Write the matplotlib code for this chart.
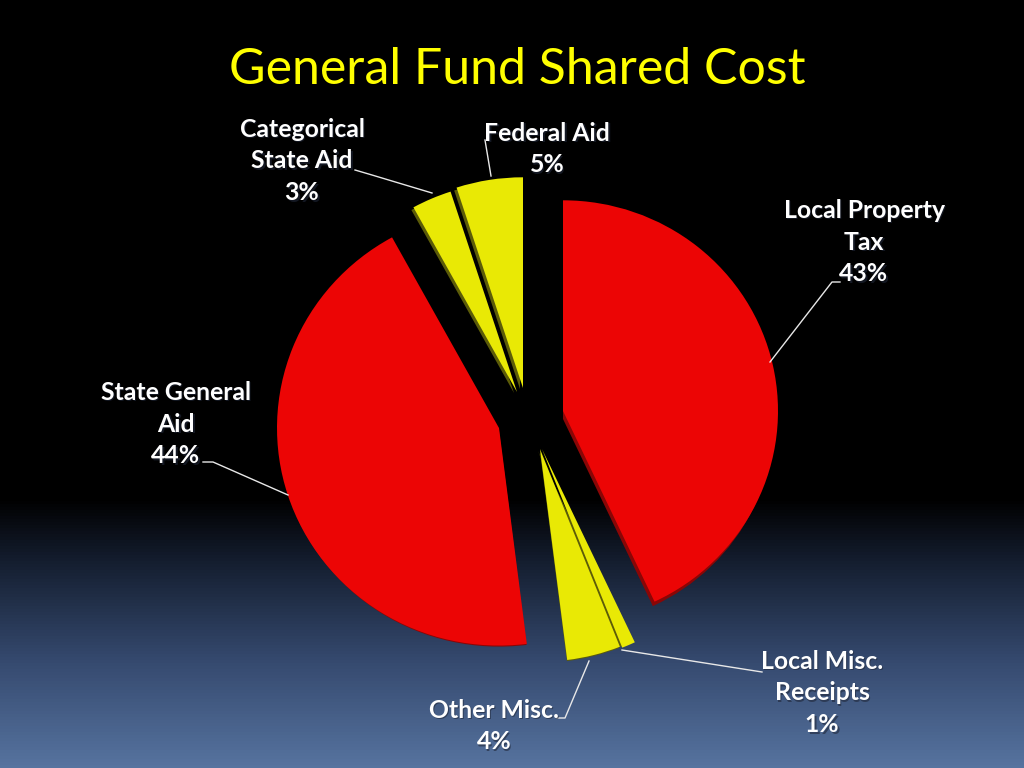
import numpy as np
import matplotlib
matplotlib.use('Agg')
import matplotlib.pyplot as plt
from matplotlib.colors import LinearSegmentedColormap

plt.rcParams['font.family'] = ['Lato', 'DejaVu Sans']

TITLE = 'General Fund Shared Cost'
labels = ['Local Property\nTax\n43%', 'Local Misc.\nReceipts\n1%', 'Other Misc.\n4%',
          'State General\nAid\n44%', 'Categorical\nState Aid\n3%', 'Federal Aid\n5%']
values = [43, 1, 4, 44, 3, 5]
colors = ['#ec0505', '#e9e905', '#e9e905', '#ec0505', '#e9e905', '#e9e905']
side_colors = ['#8a0606', '#5c5c08', '#5c5c08', '#8a0606', '#5c5c08', '#5c5c08']

# wedge tips in picture pixels, the pie is not a plain radial explode
tips = [(563, 411), (542, 449), (540, 449), (499, 428), (517, 392), (523, 388)]
radii = [215, 218, 217, 222, 215, 215]
# how far the dark edge sticks out from under each wedge (dx, dy, radius loss)
side_shift = [(0, 8, 4), (-4, 2, 2), (0, 3, 2), (0, 3, 2), (-3, 1, 2), (-3, 1, 2)]
label_xy = [(864, 242), (822, 693), (494, 726), (176, 424), (302, 161), (547, 149)]
leaders = [[(770, 362), (832, 282), (840, 282)],
           [(622, 650), (762, 672)],
           [(589, 661), (565, 718), (557, 718)],
           [(288, 495), (213, 462), (203, 462)],
           [(432, 193), (372, 175), (355, 170)],
           [(491, 176), (485, 140)]]

SQUASH = 0.98


def to_data(x, y):
    return x, (768 - y) / SQUASH


fig = plt.figure(figsize=(10.24, 7.68), dpi=100)

# background gradient
bg = fig.add_axes([0, 0, 1, 1])
cmap = LinearSegmentedColormap.from_list('bg', [(0, '#000000'), (0.65, '#000000'), (0.73, '#141d2e'),
                                                (0.86, '#35496e'), (1, '#56739f')])
bg.imshow(np.linspace(0, 1, 768).reshape(-1, 1), cmap=cmap, aspect='auto', extent=[0, 1024, 768, 0])
bg.axis('off')

ax = fig.add_axes([0, 0, 1, 1])
ax.patch.set_alpha(0)

# darker copy first for the thin 3d edge, then the top faces
sides, _ = ax.pie(values, colors=side_colors, startangle=90, counterclock=False)
for w, tip, r, s in zip(sides, tips, radii, side_shift):
    w.set_center(to_data(tip[0] + s[0], tip[1] + s[1]))
    w.set_radius(r - s[2])

faces, _ = ax.pie(values, colors=colors, startangle=90, counterclock=False)
for w, tip, r in zip(faces, tips, radii):
    w.set_center(to_data(*tip))
    w.set_radius(r)

ax.set_aspect('auto')
ax.set_xlim(0, 1024)
ax.set_ylim(0, 768 / SQUASH)
ax.axis('off')

for line in leaders:
    pts = [to_data(x, y) for x, y in line]
    ax.plot([p[0] for p in pts], [p[1] for p in pts], color='#e8e8e8', lw=1)

for txt, pos in zip(labels, label_xy):
    x, y = to_data(*pos)
    # soft drop shadow under the labels
    ax.text(x + 1.5, y - 1.5, txt, color='#20283a', fontsize=17.8, fontweight='bold', ha='center', va='center',
            linespacing=1.45, alpha=0.6)
    ax.text(x, y, txt, color='white', fontsize=17.8, fontweight='bold', ha='center', va='center', linespacing=1.45)

fig.text(517 / 1024, 1 - 70 / 768, TITLE, color='#ffff00', fontsize=36, ha='center', va='center')

fig.savefig('out.png', dpi=100)
